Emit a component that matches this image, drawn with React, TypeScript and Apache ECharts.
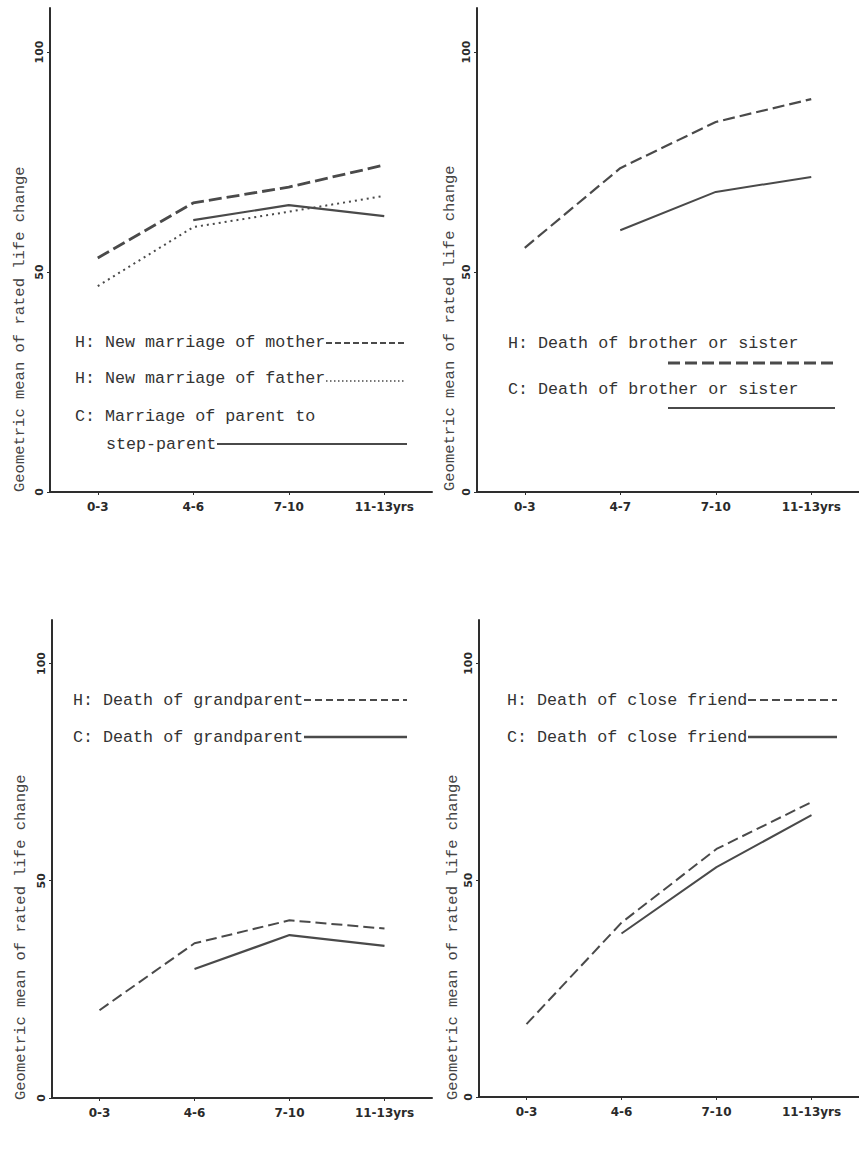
import React, { useEffect, useRef } from "react";
import * as echarts from "echarts";

const agesA = ["0-3", "4-6", "7-10", "11-13yrs"];
const agesB = ["0-3", "4-7", "7-10", "11-13yrs"];

const newMarriageMotherH = [53.2, 65.7, 69.3, 74.3];
const newMarriageFatherH = [46.8, 60.2, 63.7, 67.3];
const marriageStepParentC = [null, 61.8, 65.2, 62.7];

const siblingDeathH = [55.5, 73.6, 84.1, 89.3];
const siblingDeathC = [null, 59.5, 68.2, 71.6];

const grandparentDeathH = [20.2, 35.6, 40.9, 39.0];
const grandparentDeathC = [null, 29.7, 37.5, 35.0];

const friendDeathH = [16.8, 40.2, 57.2, 68.0];
const friendDeathC = [null, 37.7, 53.0, 65.0];

const yMin = 0;
const yMax = 110;
const yInterval = 50;
const yAxisTitle = "Geometric mean of rated life change";

const MONO = "'Liberation Mono', 'DejaVu Sans Mono', monospace";
const LINE = "#4a4a4a";
const AXIS = "#2e2e2e";

export default function App() {
  const ref = useRef<HTMLDivElement>(null);

  useEffect(() => {
    if (!ref.current) return;
    const chart = echarts.init(ref.current, undefined, { renderer: "svg" });

    const grids = [
      { left: 50, top: 8, width: 382, height: 484 },
      { left: 477, top: 8, width: 382, height: 484 },
      { left: 52, top: 620, width: 380, height: 478 },
      { left: 479, top: 620, width: 380, height: 477 },
    ];
    const catSets = [agesA, agesB, agesA, agesA];

    const xAxes = grids.map((_, i) => ({
      type: "category",
      gridIndex: i,
      data: catSets[i],
      boundaryGap: true,
      axisLine: { show: true, lineStyle: { color: AXIS, width: 2 } },
      axisTick: { show: true, alignWithLabel: true, length: 3, lineStyle: { color: AXIS } },
      axisLabel: {
        color: "#2a2a2a",
        fontFamily: "'DejaVu Sans', sans-serif",
        fontWeight: "bold",
        fontSize: 12,
        margin: 9,
      },
      splitLine: { show: false },
    }));

    const yAxes = grids.map((_, i) => ({
      type: "value",
      gridIndex: i,
      min: yMin,
      max: yMax,
      interval: yInterval,
      axisLine: { show: true, lineStyle: { color: AXIS, width: 2 } },
      axisTick: { show: true, length: 3, lineStyle: { color: AXIS } },
      axisLabel: {
        rotate: 90,
        color: "#2a2a2a",
        fontFamily: "'DejaVu Sans', sans-serif",
        fontWeight: "bold",
        fontSize: 11,
        margin: 5,
        showMaxLabel: false,
      },
      splitLine: { show: false },
    }));

    const mk = (data: (number | null)[], idx: number, type: any, width: number) => ({
      type: "line",
      xAxisIndex: idx,
      yAxisIndex: idx,
      data,
      showSymbol: false,
      symbol: "none",
      connectNulls: false,
      lineStyle: { color: LINE, width, type },
      itemStyle: { color: LINE },
    });

    const series = [
      mk(newMarriageMotherH, 0, [13, 5], 2.8),
      mk(newMarriageFatherH, 0, [2, 4], 2),
      mk(marriageStepParentC, 0, "solid", 2.2),
      mk(siblingDeathH, 1, [12, 5], 2.2),
      mk(siblingDeathC, 1, "solid", 2),
      mk(grandparentDeathH, 2, [11, 5], 2),
      mk(grandparentDeathC, 2, "solid", 2.2),
      mk(friendDeathH, 3, [11, 5], 2),
      mk(friendDeathC, 3, "solid", 2),
    ];

    const txt = (text: string, x: number, y: number) => ({
      type: "text",
      x,
      y,
      style: {
        text,
        fill: "#333",
        font: `16.7px ${MONO}`,
        align: "left",
        verticalAlign: "middle",
      },
    });
    const seg = (x1: number, x2: number, y: number, dash: any, w: number) => ({
      type: "line",
      shape: { x1, y1: y, x2, y2: y },
      style: { stroke: LINE, lineWidth: w, lineDash: dash },
    });
    const yName = (x: number, y: number) => ({
      type: "text",
      x,
      y,
      rotation: Math.PI / 2,
      style: {
        text: yAxisTitle,
        fill: "#444",
        font: `15.5px ${MONO}`,
        align: "left",
        verticalAlign: "middle",
      },
    });

    const graphic = [
      yName(20, 492),
      yName(450, 491),
      yName(21, 1100),
      yName(453, 1100),
      // panel 1 legend
      txt("H: New marriage of mother", 75, 342),
      seg(326, 407, 343, [6, 3], 2),
      txt("H: New marriage of father", 75, 378),
      seg(326, 405, 381, [1.5, 2.5], 1.5),
      txt("C: Marriage of parent to", 75, 416),
      txt("step-parent", 106, 444),
      seg(217, 407, 444, null, 2),
      // panel 2 legend
      txt("H: Death of brother or sister", 508, 343),
      seg(668, 835, 363, [12, 5], 3),
      txt("C: Death of brother or sister", 508, 389),
      seg(668, 835, 408, null, 2),
      // panel 3 legend
      txt("H: Death of grandparent", 73, 700),
      seg(304, 407, 700, [7, 4], 2),
      txt("C: Death of grandparent", 73, 737),
      seg(304, 407, 737, null, 2.5),
      // panel 4 legend
      txt("H: Death of close friend", 507, 700),
      seg(748, 837, 700, [8, 4], 2),
      txt("C: Death of close friend", 507, 737),
      seg(748, 837, 737, null, 2.5),
    ];

    chart.setOption({
      animation: false,
      backgroundColor: "#ffffff",
      grid: grids.map((g) => ({ ...g, containLabel: false })),
      xAxis: xAxes,
      yAxis: yAxes,
      series,
      graphic,
    });

    return () => chart.dispose();
  }, []);

  return (
    <div
      ref={ref}
      style={{ position: "absolute", left: 0, top: 0, width: 859, height: 1170 }}
    />
  );
}
